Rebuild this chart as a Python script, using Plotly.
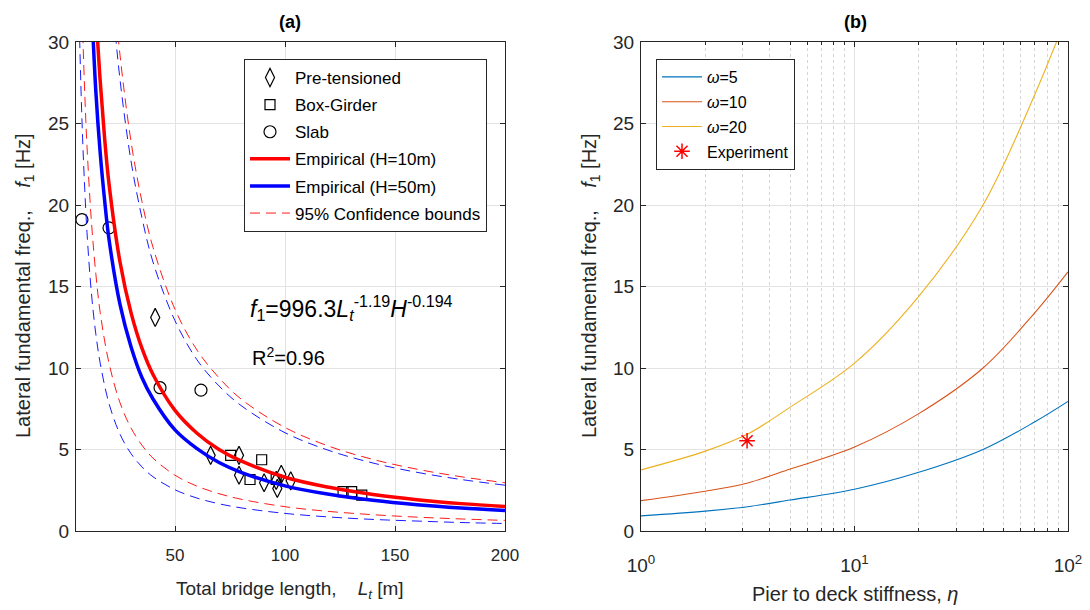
import plotly.graph_objects as go

# ---------------- Panel (a) data ----------------
pre_L = [41.0, 66.2, 79.1, 79.1, 90.5, 98.3, 96.5, 102.6, 96.0]
pre_f = [13.1, 4.64, 4.64, 3.42, 2.96, 3.48, 2.61, 3.08, 3.10]
box_L = [75.3, 89.4, 84.1, 96.0, 126.4, 130.3, 134.9]
box_f = [4.64, 4.37, 3.16, 3.16, 2.41, 2.41, 2.20]
slab_L = [7.7, 20.0, 43.2, 61.8]
slab_f = [19.1, 18.6, 8.79, 8.64]

emp_L = [12, 14, 16, 18, 20, 25, 30, 35, 40, 50, 60, 70, 80, 100, 120, 140, 160, 180, 200]
emp_h10 = [38.8, 32.1, 27.6, 24.1, 21.3, 16.5, 13.4, 11.2, 9.6, 7.4, 6.0, 5.0, 4.3, 3.3, 2.68, 2.24, 1.92, 1.68, 1.50]
emp_h50 = [32.6, 27.0, 23.2, 20.3, 17.9, 13.9, 11.3, 9.4, 8.1, 6.2, 5.05, 4.2, 3.6, 2.77, 2.25, 1.88, 1.61, 1.41, 1.26]

up_L = [20, 22, 25, 30, 35, 40, 50, 60, 70, 80, 100, 120, 140, 160, 180, 200]
up_h10 = [37.3, 33.6, 29.2, 23.9, 20.2, 17.4, 13.6, 11.1, 9.4, 8.1, 6.35, 5.2, 4.39, 3.79, 3.33, 2.96]
up_h50 = [35.4, 31.9, 27.7, 22.7, 19.2, 16.5, 12.9, 10.5, 8.9, 7.7, 6.03, 4.94, 4.17, 3.60, 3.16, 2.81]

lo_L = [5, 6, 7, 8, 9, 10, 12, 14, 16, 20, 25, 30, 35, 40, 50, 60, 70, 80, 100, 120, 140, 160, 180, 200]
lo_h10 = [60.0, 43.6, 36.3, 30.9, 26.8, 23.6, 19.0, 15.8, 13.4, 10.3, 7.87, 6.32, 5.26, 4.47, 3.42, 2.75, 2.29, 1.95, 1.49, 1.20, 1.00, 0.85, 0.74, 0.65]
lo_h50 = [43.0, 34.4, 28.4, 24.1, 20.9, 18.3, 14.6, 12.1, 10.3, 7.82, 5.94, 4.75, 3.93, 3.33, 2.53, 2.02, 1.67, 1.42, 1.08, 0.86, 0.71, 0.61, 0.52, 0.46]

# ---------------- Panel (b) data ----------------
eta = [1, 2, 3.16, 5, 10, 20, 40, 70, 100]
w5 = [0.93, 1.22, 1.49, 1.90, 2.56, 3.60, 5.0, 6.7, 7.95]
w10 = [1.86, 2.44, 2.95, 3.80, 5.15, 7.20, 10.0, 13.4, 15.9]
w20 = [3.75, 4.90, 5.95, 7.60, 10.3, 14.4, 20.0, 26.8, 31.8]
exp_eta = [3.14]
exp_f = [5.54]

y_ticks = [0, 5, 10, 15, 20, 25, 30]
xa_ticks = [50, 100, 150, 200]
xb_ticks = [1, 10, 100]
xb_ticktext = ["10<sup>0</sup>", "10<sup>1</sup>", "10<sup>2</sup>"]
xb_minor = [2, 3, 4, 5, 6, 7, 8, 9, 20, 30, 40, 50, 60, 70, 80, 90]

FONT = "Liberation Sans, Arial, Helvetica, sans-serif"
TXT = "#262626"
GRID = "#e3e3e3"
NB = "\u00a0"

fig = go.Figure()

# panel (a) traces
fig.add_trace(go.Scatter(x=pre_L, y=pre_f, mode="markers", name="Pre-tensioned", legendgroup="a1",
                         marker=dict(symbol="diamond-tall-open", size=13, color="black", line=dict(width=1.2)),
                         xaxis="x", yaxis="y", legend="legend"))
fig.add_trace(go.Scatter(x=box_L, y=box_f, mode="markers", name="Box-Girder", legendgroup="a2",
                         marker=dict(symbol="square-open", size=10, color="black", line=dict(width=1.2)),
                         xaxis="x", yaxis="y", legend="legend"))
fig.add_trace(go.Scatter(x=slab_L, y=slab_f, mode="markers", name="Slab", legendgroup="a3",
                         marker=dict(symbol="circle-open", size=12, color="black", line=dict(width=1.2)),
                         xaxis="x", yaxis="y", legend="legend"))
fig.add_trace(go.Scatter(x=emp_L, y=emp_h10, mode="lines", name="Empirical (H=10m)", line_shape="spline",
                         legendgroup="a4",
                         line=dict(color="#ff0000", width=3.5), xaxis="x", yaxis="y", legend="legend"))
fig.add_trace(go.Scatter(x=emp_L, y=emp_h50, mode="lines", name="Empirical (H=50m)", line_shape="spline",
                         legendgroup="a5",
                         line=dict(color="#0000ff", width=3.5), xaxis="x", yaxis="y", legend="legend"))
for L, f, col, show in [(up_L, up_h10, "#ff0000", True), (lo_L, lo_h10, "#ff0000", False),
                        (up_L, up_h50, "#0000ff", False), (lo_L, lo_h50, "#0000ff", False)]:
    fig.add_trace(go.Scatter(x=L, y=f, mode="lines", name="95% Confidence bounds", line_shape="spline",
                             legendgroup="a6",
                             line=dict(color=col, width=0.9, dash="10px,6px"), showlegend=show,
                             xaxis="x", yaxis="y", legend="legend"))

# panel (b) traces
for nm, vals, col, g in [("<i>ω</i>=5", w5, "#0072BD", "b1"), ("<i>ω</i>=10", w10, "#D95319", "b2"),
                         ("<i>ω</i>=20", w20, "#EDB120", "b3")]:
    fig.add_trace(go.Scatter(x=eta, y=vals, mode="lines", name=nm, line_shape="spline", legendgroup=g,
                             line=dict(color=col, width=1.1), xaxis="x2", yaxis="y2", legend="legend2"))
fig.add_trace(go.Scatter(x=exp_eta, y=exp_f, mode="markers", name="Experiment", legendgroup="b4",
                         marker=dict(symbol="asterisk-open", size=13, color="#ff0000",
                                     line=dict(width=1.5, color="#ff0000")),
                         xaxis="x2", yaxis="y2", legend="legend2"))

W, H = 1090, 610
def fx(px):
    return px / W
def fy(py):
    return (H - py) / H

def ax_common(ts=18):
    return dict(showline=True, linecolor="#262626", linewidth=1, mirror="ticks", ticks="inside",
                ticklen=5, tickcolor="#262626", showgrid=True, gridcolor=GRID, gridwidth=1,
                zeroline=False, automargin=False, tickfont=dict(family=FONT, size=ts, color=TXT))

fig.update_layout(
    width=W, height=H, margin=dict(l=0, r=0, t=0, b=0, autoexpand=False),
    paper_bgcolor="white", plot_bgcolor="white",
    font=dict(family=FONT, size=16, color=TXT),
    xaxis=dict(domain=[fx(76), fx(505)], range=[5, 200], tickmode="array", tickvals=xa_ticks,
               anchor="y", ticklabelstandoff=9, **ax_common(17)),
    yaxis=dict(domain=[fy(531), fy(42)], range=[0, 30], tickmode="array", tickvals=y_ticks,
               anchor="x", ticklabelstandoff=2, **ax_common(19)),
    xaxis2=dict(domain=[fx(641), fx(1068)], type="log", range=[0, 2],
                tickmode="array", tickvals=xb_ticks, ticktext=xb_ticktext,
                minor=dict(tickmode="array", tickvals=xb_minor, showgrid=True, griddash="dot",
                           gridcolor="#d4d4d4", ticks="inside", ticklen=3, tickcolor="#262626"),
                anchor="y2", ticklabelstandoff=17, **ax_common(19)),
    yaxis2=dict(domain=[fy(531), fy(42)], range=[0, 30], tickmode="array", tickvals=y_ticks,
                anchor="x2", ticklabelstandoff=2, **ax_common(19)),
    legend=dict(x=fx(244), y=fy(59), xanchor="left", yanchor="top", bgcolor="white",
                bordercolor="#262626", borderwidth=1, font=dict(family=FONT, size=17, color="black"),
                tracegroupgap=2, itemwidth=40),
    legend2=dict(x=fx(656), y=fy(59), xanchor="left", yanchor="top", bgcolor="white",
                 bordercolor="#262626", borderwidth=1, font=dict(family=FONT, size=16, color="black"),
                 tracegroupgap=1, itemwidth=40),
    showlegend=True,
)

ann = [
    dict(text="<b>(a)</b>", x=fx(290), y=fy(22), font=dict(size=18, color="black")),
    dict(text="<b>(b)</b>", x=fx(855), y=fy(22), font=dict(size=18, color="black")),
    dict(text="Total bridge length," + NB * 4 + "<i>L</i><sub><i>t</i></sub> [m]", x=fx(290), y=fy(590),
         font=dict(size=19, color=TXT)),
    dict(text="Pier to deck stiffness, <i>η</i>", x=fx(855), y=fy(594), font=dict(size=20, color=TXT)),
    dict(text="Lateral fundamental freq.," + NB * 4 + "<i>f</i><sub>1</sub> [Hz]", x=fx(24), y=fy(286),
         textangle=-90, font=dict(size=20, color=TXT)),
    dict(text="Lateral fundamental freq.," + NB * 4 + "<i>f</i><sub>1</sub> [Hz]", x=fx(590), y=fy(286),
         textangle=-90, font=dict(size=20, color=TXT)),
    dict(text="<i>f</i><sub>1</sub>=996.3<i>L</i><sub><i>t</i></sub><sup>-1.19</sup><i>H</i><sup>-0.194</sup>",
         x=fx(248), y=fy(308), xanchor="left", font=dict(size=23, color="black")),
    dict(text="R<sup>2</sup>=0.96", x=fx(250), y=fy(356), xanchor="left", font=dict(size=20, color="black")),
]
for a in ann:
    a.setdefault("xanchor", "center")
    a.update(xref="paper", yref="paper", showarrow=False, yanchor="middle")
    a["font"]["family"] = FONT
fig.update_layout(annotations=ann)

fig.write_html("out.html")
